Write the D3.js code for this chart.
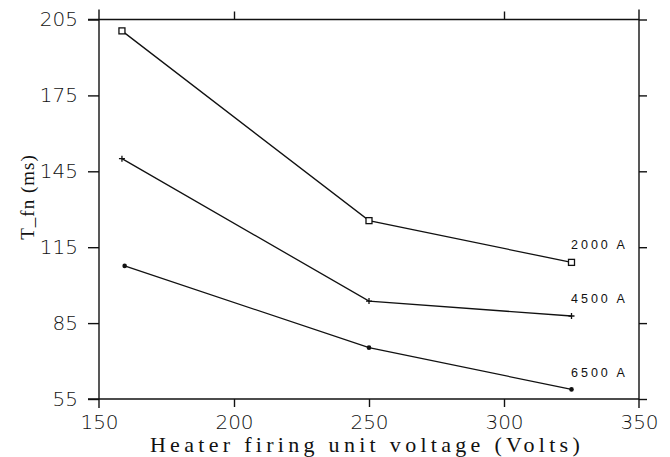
<!DOCTYPE html>
<html>
<head>
<meta charset="utf-8">
<script src="https://cdn.jsdelivr.net/npm/d3@7"></script>
<style>
  body { margin: 0; background: #fff; }
  svg { display: block; }
  .tick text { font-family: "DejaVu Sans", sans-serif; font-weight: 200; font-size: 20px; fill: #111; }
  .domain, .tick line { stroke: #111; stroke-width: 1.4; }
  .series { fill: none; stroke: #111; stroke-width: 1.3; }
  .lbl { font-family: "Liberation Sans", Arial, sans-serif; font-size: 12.5px; letter-spacing: 3px; fill: #111; }
  .title { font-family: "Liberation Serif", "Times New Roman", serif; font-size: 22px; letter-spacing: 4.3px; fill: #111; }
  .ytitle { font-family: "Liberation Serif", "Times New Roman", serif; font-size: 19px; letter-spacing: 1px; fill: #111; }
</style>
</head>
<body>
<svg width="670" height="457"></svg>
<script>
// values
var voltage2000 = [158.5, 250, 325];
var tfn2000 = [200.5, 125.5, 109];
var voltage4500 = [158.5, 250, 325];
var tfn4500 = [150, 93.7, 87.8];
var voltage6500 = [159.5, 250, 325];
var tfn6500 = [107.6, 75.3, 58.8];
var seriesNames = ["2000 A", "4500 A", "6500 A"];
var xTicks = [150, 200, 250, 300, 350];
var yTicks = [55, 85, 115, 145, 175, 205];

var svg = d3.select("svg");
var mLeft = 99, mRight = 639, mTop = 19.5, mBottom = 399;

var x = d3.scaleLinear().domain([150, 350]).range([mLeft, mRight]);
var y = d3.scaleLinear().domain([55, 205]).range([mBottom, mTop]);

// frame + ticks
svg.append("g").attr("transform", "translate(0," + mBottom + ")")
    .call(d3.axisBottom(x).tickValues(xTicks).tickSize(0).tickPadding(16).tickFormat(d3.format("d")))
    .call(function(g) { g.select(".domain").remove(); });
svg.append("g").attr("transform", "translate(0," + mBottom + ")")
    .call(d3.axisBottom(x).tickValues([200, 250, 300]).tickSize(8).tickFormat(""))
    .call(function(g) { g.select(".domain").remove(); });
svg.append("g").attr("transform", "translate(0," + mTop + ")")
    .call(d3.axisTop(x).tickValues([200, 300]).tickSize(8).tickFormat(""))
    .call(function(g) { g.select(".domain").remove(); });
svg.append("g").attr("transform", "translate(" + mLeft + ",0)")
    .call(d3.axisLeft(y).tickValues(yTicks).tickSize(11).tickPadding(10).tickFormat(d3.format("d")))
    .call(function(g) { g.select(".domain").remove(); });
svg.append("g").attr("transform", "translate(" + mRight + ",0)")
    .call(d3.axisRight(y).tickValues(yTicks).tickSize(8).tickFormat(""))
    .call(function(g) { g.select(".domain").remove(); });

var frame = svg.append("g").attr("stroke", "#111").attr("stroke-width", 1.4);
frame.append("line").attr("x1", mLeft - 11).attr("x2", mRight).attr("y1", mTop).attr("y2", mTop);
frame.append("line").attr("x1", mLeft - 11).attr("x2", mRight).attr("y1", mBottom).attr("y2", mBottom);
frame.append("line").attr("x1", mLeft).attr("x2", mLeft).attr("y1", mTop - 10).attr("y2", mBottom + 9);
frame.append("line").attr("x1", mRight).attr("x2", mRight).attr("y1", mTop - 10).attr("y2", mBottom + 9);

// series
var line = d3.line().x(function(d) { return x(d[0]); }).y(function(d) { return y(d[1]); });
var series = [
  { name: seriesNames[0], pts: d3.zip(voltage2000, tfn2000), mark: "square", labelY: 246 },
  { name: seriesNames[1], pts: d3.zip(voltage4500, tfn4500), mark: "plus", labelY: 300 },
  { name: seriesNames[2], pts: d3.zip(voltage6500, tfn6500), mark: "dot", labelY: 374 }
];

series.forEach(function(s) {
  svg.append("path").attr("class", "series").attr("d", line(s.pts));
  var g = svg.append("g");
  s.pts.forEach(function(p) {
    var px = x(p[0]), py = y(p[1]);
    if (s.mark == "square") {
      g.append("rect").attr("x", px - 3).attr("y", py - 3).attr("width", 6).attr("height", 6)
        .attr("fill", "#fff").attr("stroke", "#111").attr("stroke-width", 1.3);
    } else if (s.mark == "plus") {
      g.append("path").attr("d", "M" + (px - 3) + "," + py + "h6M" + px + "," + (py - 3) + "v6")
        .attr("stroke", "#111").attr("stroke-width", 1.3);
    } else {
      g.append("circle").attr("cx", px).attr("cy", py).attr("r", 2.3).attr("fill", "#111");
    }
  });
  svg.append("text").attr("class", "lbl")
    .attr("x", 571).attr("y", s.labelY)
    .attr("dominant-baseline", "middle")
    .text(s.name);
});

// axis titles
svg.append("text").attr("class", "title")
    .attr("x", 367).attr("y", 452)
    .attr("text-anchor", "middle")
    .text("Heater firing unit voltage (Volts)");
svg.append("text").attr("class", "ytitle")
    .attr("transform", "translate(34,197) rotate(-90)")
    .attr("text-anchor", "middle")
    .text("T_fn (ms)");
</script>
</body>
</html>
